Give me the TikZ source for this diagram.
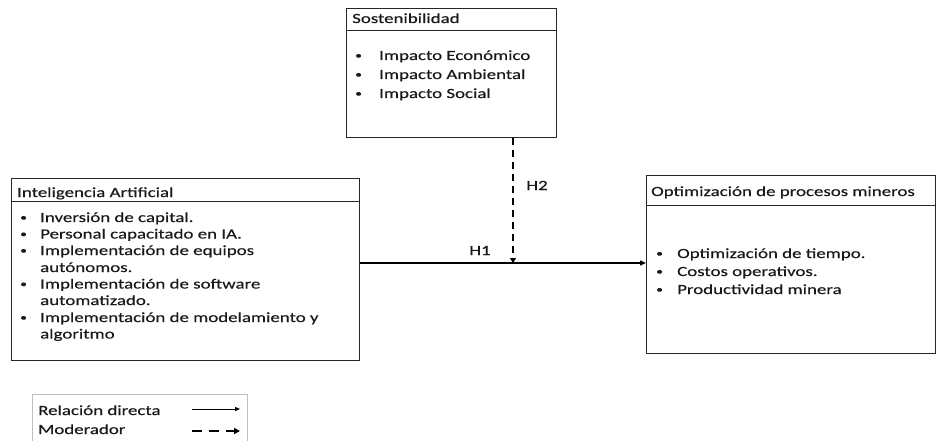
\documentclass[tikz,border=0pt]{standalone}
\usepackage{fontspec}
\setmainfont{Carlito}[FakeStretch=1.35,FakeBold=0.3]
\usetikzlibrary{arrows.meta}
\newcommand{\bulletdot}{\raisebox{1.3pt}{\fontsize{10}{10}\selectfont •}}
\begin{document}
\begin{tikzpicture}[x=1pt,y=-1pt,
  frame/.style={draw=black!85, line width=1pt, rectangle, inner sep=0pt, anchor=north west},
  rule/.style={draw=black!85, line width=1pt},
  txt/.style={anchor=base west, inner sep=0pt, text=black!90, font=\fontsize{14}{16}\selectfont},
  lbl/.style={txt, anchor=base},
  direct/.style={draw=black, line width=1.4pt, -{Triangle[length=6pt,width=5pt]}},
  moder/.style={draw=black, line width=2.6pt, dash pattern=on 7pt off 5pt, -{Triangle[length=5pt,width=6pt]}},
  legdirect/.style={draw=black, line width=1pt, -{Triangle[length=5pt,width=4pt]}},
  legmoder/.style={draw=black, line width=2.2pt, dash pattern=on 10pt off 7pt, -{Triangle[length=6pt,width=6pt]}}
]
\useasboundingbox (0,0) rectangle (944,441);
\fill[white] (0,0) rectangle (944,441);

% Sostenibilidad
\node[frame, minimum width=210pt, minimum height=129pt] (SO) at (346,8) {};
\draw[rule] (SO.west |- 0,31) -- (SO.east |- 0,31);
\node[txt] (so-t) at (352,23) {Sostenibilidad};
\node[txt] (so-b1) at (355,60) {\bulletdot};
\node[txt] (so-i1) at (379,60) {Impacto Económico};
\node[txt] (so-b2) at (355,79) {\bulletdot};
\node[txt] (so-i2) at (379,79) {Impacto Ambiental};
\node[txt] (so-b3) at (355,98) {\bulletdot};
\node[txt] (so-i3) at (379,98) {Impacto Social};

% Inteligencia Artificial
\node[frame, minimum width=348pt, minimum height=182pt] (IA) at (11,178) {};
\draw[rule] (IA.west |- 0,201) -- (IA.east |- 0,201);
\node[txt] (ia-t) at (17,197) {Inteligencia Artificial};
\node[txt] (ia-b1) at (20,222) {\bulletdot};
\node[txt] (ia-i1) at (40,222) {Inversión de capital.};
\node[txt] (ia-b2) at (20,238.5) {\bulletdot};
\node[txt] (ia-i2) at (40,238.5) {Personal capacitado en IA.};
\node[txt] (ia-b3) at (20,255) {\bulletdot};
\node[txt] (ia-i3) at (40,255) {Implementación de equipos};
\node[txt] (ia-i3b) at (40,272) {autónomos.};
\node[txt] (ia-b4) at (20,288.5) {\bulletdot};
\node[txt] (ia-i4) at (40,288.5) {Implementación de software};
\node[txt] (ia-i4b) at (40,305) {automatizado.};
\node[txt] (ia-b5) at (20,322) {\bulletdot};
\node[txt] (ia-i5) at (40,322) {Implementación de modelamiento y};
\node[txt] (ia-i5b) at (40,338.5) {algoritmo};

% Optimización de procesos mineros
\node[frame, minimum width=289pt, minimum height=178pt] (OP) at (646,175) {};
\draw[rule] (OP.west |- 0,205) -- (OP.east |- 0,205);
\node[txt] (op-t) at (651,196) {Optimización de procesos mineros};
\node[txt] (op-b1) at (656,258) {\bulletdot};
\node[txt] (op-i1) at (677,258) {Optimización de tiempo.};
\node[txt] (op-b2) at (656,276) {\bulletdot};
\node[txt] (op-i2) at (677,276) {Costos operativos.};
\node[txt] (op-b3) at (656,294) {\bulletdot};
\node[txt] (op-i3) at (677,294) {Productividad minera};

% relations
\coordinate (J) at (513,263);
\draw[direct] (IA.east |- J) -- (OP.west |- J);
\draw[moder] (SO.south -| J) -- (J);
\node[lbl] (h1) at (480,255) {H1};
\node[lbl] (h2) at (537,190) {H2};

% legend
\draw[draw=black!25, line width=1pt] (32,445) -- (32,394) -- (247,394) -- (247,445);
\node[txt] (lg-1) at (38,415) {Relación directa};
\node[txt] (lg-2) at (38,434) {Moderador};
\coordinate (ld1a) at (192,409);
\coordinate (ld1b) at (240,409);
\coordinate (ld2a) at (192,431);
\coordinate (ld2b) at (240,431);
\draw[legdirect] (ld1a) -- (ld1b);
\draw[legmoder] (ld2a) -- (ld2b);
\end{tikzpicture}
\end{document}
